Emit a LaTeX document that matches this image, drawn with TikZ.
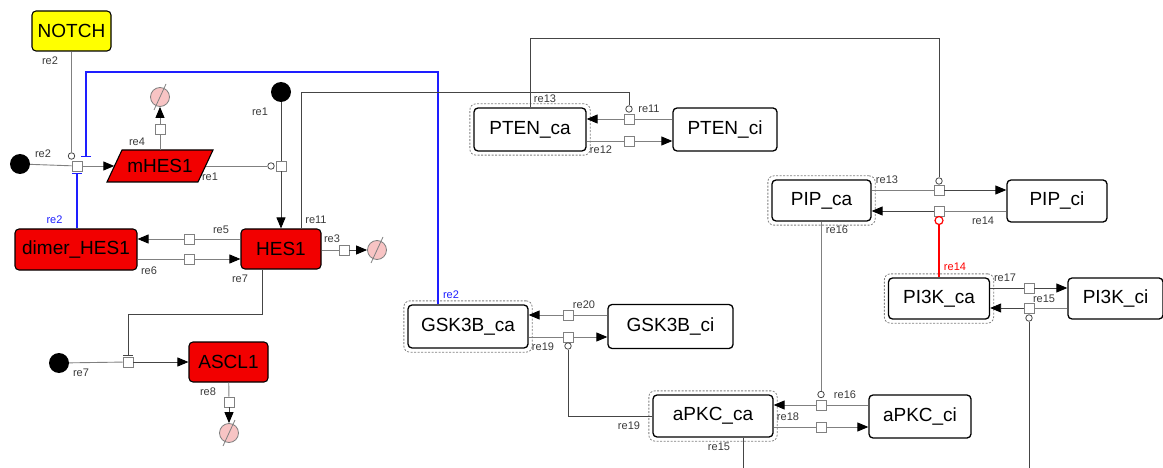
\documentclass[tikz,border=0pt]{standalone}
\usepackage{fontspec}
\setmainfont{Liberation Sans}
\usepackage{xcolor}
\definecolor{hesred}{HTML}{F20000}
\definecolor{notchyellow}{HTML}{FFFF00}
\definecolor{inhblue}{HTML}{1E1EFF}
\definecolor{degpink}{HTML}{F8C4C4}
\definecolor{rxngray}{HTML}{808080}
\definecolor{modgray}{HTML}{454545}
\definecolor{lblgray}{HTML}{3A3A3A}
\usetikzlibrary{arrows.meta, shapes.geometric, positioning, calc, fit}

\begin{document}
\begin{tikzpicture}[x=1pt, y=-1pt, >={Triangle[length=11pt,width=9pt,black]},
  species/.style={draw, line width=1.3pt, rounded corners=4pt, inner sep=0pt,
                  font=\fontsize{19}{20}\selectfont},
  redbox/.style={species, fill=hesred, line width=1.1pt},
  yellowbox/.style={species, fill=notchyellow, line width=1.1pt},
  cabox/.style={draw=gray, dashed, dash pattern=on 2pt off 1.5pt, line width=0.8pt,
                rounded corners=6pt, inner sep=3.5pt},
  procsq/.style={draw=rxngray, fill=white, line width=0.9pt, minimum size=10pt, inner sep=0pt},
  modcirc/.style={circle, draw=modgray, fill=white, line width=0.8pt, minimum size=6.5pt, inner sep=0pt},
  srcdot/.style={circle, fill=black, minimum size=20pt, inner sep=0pt},
  degsym/.style={circle, draw=gray, fill=degpink, line width=0.8pt, minimum size=19pt, inner sep=0pt},
  rxn/.style={draw=rxngray, line width=0.9pt},
  modline/.style={draw=modgray, line width=0.9pt},
  inhline/.style={draw=inhblue, line width=1.3pt, -{Bar[width=10pt]}},
  lbl/.style={font=\fontsize{11}{12}\selectfont, text=lblgray, inner sep=0pt}]

  \clip (0,0) rectangle (1163,468);

  % HES1 module
  \node[yellowbox, minimum width=79pt, minimum height=40pt] (notch) at (71.5,31) {NOTCH};
  \draw[fill=hesred, line width=1.1pt] (107,182) -- (122,150) -- (213,150) -- (198,182) -- cycle;
  \node[inner sep=0pt, minimum width=91pt, minimum height=32pt,
        font=\fontsize{19}{20}\selectfont] (mhes1) at (160,166) {mHES1};
  \node[redbox, minimum width=122pt, minimum height=41pt] (dimer) at (76,249.5) {dimer\_HES1};
  \node[redbox, minimum width=80pt, minimum height=40pt] (hes1) at (281,249) {HES1};
  \node[redbox, minimum width=79pt, minimum height=40pt] (ascl1) at (228.5,362) {ASCL1};

  \node[srcdot] (src2) at (20,164) {};
  \node[srcdot] (src1) at (281,92) {};
  \node[srcdot] (src7) at (59,363) {};
  \node[degsym] (deg4) at (160,97) {};
  \node[degsym] (deg3) at (377,250) {};
  \node[degsym] (deg8) at (229,433) {};
  \foreach \d in {deg4,deg3,deg8}
    \draw[gray, line width=0.8pt] ($(\d)+(-6,13)$) -- ($(\d)+(6,-13)$);

  % PI3K / PTEN module
  \node[species, minimum width=112pt, minimum height=43pt] (pten_ca) at (530,129.5) {PTEN\_ca};
  \node[species, minimum width=104pt, minimum height=43pt] (pten_ci) at (725,129.5) {PTEN\_ci};
  \node[species, minimum width=99pt, minimum height=41pt] (pip_ca) at (821.5,200.5) {PIP\_ca};
  \node[species, minimum width=100pt, minimum height=42pt] (pip_ci) at (1057,201) {PIP\_ci};
  \node[species, minimum width=101pt, minimum height=41pt] (pi3k_ca) at (939,298.5) {PI3K\_ca};
  \node[species, minimum width=95pt, minimum height=41pt] (pi3k_ci) at (1115.5,298.5) {PI3K\_ci};
  \node[species, minimum width=120pt, minimum height=43pt] (gsk3b_ca) at (468,326.5) {GSK3B\_ca};
  \node[species, minimum width=125pt, minimum height=44pt] (gsk3b_ci) at (670.5,326.5) {GSK3B\_ci};
  \node[species, minimum width=120pt, minimum height=42pt] (apkc_ca) at (713,416) {aPKC\_ca};
  \node[species, minimum width=102pt, minimum height=43pt] (apkc_ci) at (920,416.5) {aPKC\_ci};
  \foreach \n in {pten_ca,pip_ca,pi3k_ca,gsk3b_ca,apkc_ca}
    \node[cabox, fit=(\n)] (\n-outer) {};

  % process squares and modifier circles
  \node[procsq] (r2sq) at (77,166) {};
  \node[modcirc] (r2c) at (71.5,156) {};
  \node[procsq] (r4sq) at (160,129) {};
  \node[procsq] (r1sq) at (281,166) {};
  \node[modcirc] (r1c) at (271,166) {};
  \node[procsq] (r5sq) at (189,239) {};
  \node[procsq] (r6sq) at (189,259) {};
  \node[procsq] (r3sq) at (344,250) {};
  \node[procsq] (r7sq) at (128,362) {};
  \node[procsq] (r8sq) at (229,402) {};
  \node[procsq] (r11sq) at (629,119) {};
  \node[modcirc] (r11c) at (629,109) {};
  \node[procsq] (r12sq) at (629,141) {};
  \node[procsq] (r13sq) at (939,190) {};
  \node[modcirc] (r13c) at (939,181) {};
  \node[procsq] (r14sq) at (939,211) {};
  \node[modcirc, draw=red, line width=1.2pt, minimum size=8pt] (r14c) at (939,220.5) {};
  \node[procsq] (r17sq) at (1029,288) {};
  \node[procsq] (r15sq) at (1029,308) {};
  \node[modcirc] (r15c) at (1029,318) {};
  \node[procsq] (r20sq) at (568,315) {};
  \node[procsq] (r19sq) at (568,337) {};
  \node[modcirc] (r19c) at (568,346) {};
  \node[procsq] (r16sq) at (821,405) {};
  \node[modcirc] (r16c) at (821,394.5) {};
  \node[procsq] (r18sq) at (821,427) {};

  \coordinate (r2top) at (86,157);
  \coordinate (r2bot) at (77,173);
  \coordinate (bendblue) at (86,72);
  \coordinate (bend11) at (301,92);
  \coordinate (bend13) at (530,38);
  \coordinate (bend7) at (262,314);
  \coordinate (r7bar) at (128,355);
  \coordinate (bend15) at (743,480);

  % HES1 reactions
  \draw[rxn] (src2) -- (r2sq);
  \draw[rxn, ->] (r2sq) -- (mhes1);
  \draw[rxn] (notch) -- (r2c);
  \draw[inhline] ([xshift=-30pt]gsk3b_ca.north) |- (bendblue) -- (r2top);
  \draw[inhline] (dimer.north -| r2bot) -- (r2bot);
  \draw[rxn] (mhes1.north) -- (r4sq);
  \draw[rxn, ->] (r4sq) -- (deg4);
  \draw[modline] (src1) -- (r1sq);
  \draw[modline, ->] (r1sq) -- (hes1);
  \draw[rxn] (mhes1) -- (r1c);
  \draw[rxn] (r5sq -| hes1.west) -- (r5sq);
  \draw[rxn, ->] (r5sq) -- (r5sq -| dimer.east);
  \draw[rxn] (r6sq -| dimer.east) -- (r6sq);
  \draw[rxn, ->] (r6sq) -- (r6sq -| hes1.west);
  \draw[rxn] (r3sq -| hes1.east) -- (r3sq);
  \draw[modline, ->] (r3sq) -- (deg3);
  \draw[modline] ([xshift=20pt]hes1.north) -- (bend11) -| (r11c);
  \draw[modline] ([xshift=-19pt]hes1.south) -- (bend7) -| (r7bar);
  \draw[modline, line width=1pt] ([xshift=-5pt]r7bar) -- ([xshift=5pt]r7bar);
  \draw[rxn] (src7) -- (r7sq);
  \draw[modline, ->] (r7sq) -- (ascl1);
  \draw[rxn] (ascl1) -- (r8sq);
  \draw[modline, ->] (r8sq) -- (deg8);

  % PTEN / PIP / PI3K reactions
  \draw[rxn] (r11sq -| pten_ci.west) -- (r11sq);
  \draw[rxn, ->] (r11sq) -- (r11sq -| pten_ca.east);
  \draw[rxn] (r12sq -| pten_ca.east) -- (r12sq);
  \draw[rxn, ->] (r12sq) -- (r12sq -| pten_ci.west);
  \draw[modline] (pten_ca.north) -- (bend13) -| (r13c);
  \draw[rxn] (r13sq -| pip_ca.east) -- (r13sq);
  \draw[modline, ->] (r13sq) -- (r13sq -| pip_ci.west);
  \draw[rxn] (r14sq -| pip_ci.west) -- (r14sq);
  \draw[modline, ->] (r14sq) -- (r14sq -| pip_ca.east);
  \draw[red, line width=1.3pt] (pi3k_ca.north -| r14c) -- (r14c);
  \draw[modline] (r17sq -| pi3k_ca.east) -- (r17sq);
  \draw[modline, ->] (r17sq) -- (r17sq -| pi3k_ci.west);
  \draw[rxn] (r15sq -| pi3k_ci.west) -- (r15sq);
  \draw[modline, ->] (r15sq) -- (r15sq -| pi3k_ca.east);
  \draw[modline] ([xshift=30pt]apkc_ca.south) -- (bend15) -| (r15c);
  \draw[rxn] (pip_ca.south -| r16c) -- (r16c);
  \draw[rxn] (r16sq -| apkc_ci.west) -- (r16sq);
  \draw[rxn, ->] (r16sq) -- (r16sq -| apkc_ca.east);
  \draw[rxn] (r18sq -| apkc_ca.east) -- (r18sq);
  \draw[rxn, ->] (r18sq) -- (r18sq -| apkc_ci.west);
  \draw[rxn] (r20sq -| gsk3b_ci.west) -- (r20sq);
  \draw[rxn, ->] (r20sq) -- (r20sq -| gsk3b_ca.east);
  \draw[rxn] (r19sq -| gsk3b_ca.east) -- (r19sq);
  \draw[rxn, ->] (r19sq) -- (r19sq -| gsk3b_ci.west);
  \draw[modline] (apkc_ca.west) -| (r19c);

  % reaction labels
  \node[lbl] (l2a) at (50,61) {re2};
  \node[lbl] (l2b) at (43,154) {re2};
  \node[lbl, text=inhblue] (l2c) at (54.5,220) {re2};
  \node[lbl, text=inhblue] (l2d) at (451,295) {re2};
  \node[lbl] (l4) at (137,142) {re4};
  \node[lbl] (l1a) at (260,112) {re1};
  \node[lbl] (l1b) at (210,177) {re1};
  \node[lbl] (l11a) at (316,220) {re11};
  \node[lbl] (l5) at (221,230) {re5};
  \node[lbl] (l6) at (149,271) {re6};
  \node[lbl] (l3) at (332,239) {re3};
  \node[lbl] (l7a) at (240,279) {re7};
  \node[lbl] (l7b) at (81,373) {re7};
  \node[lbl] (l8) at (208,392) {re8};
  \node[lbl] (l13a) at (545,99) {re13};
  \node[lbl] (l11b) at (649,109) {re11};
  \node[lbl] (l12) at (601,150) {re12};
  \node[lbl] (l13b) at (887,180) {re13};
  \node[lbl] (l16a) at (837,230) {re16};
  \node[lbl] (l14a) at (983,221) {re14};
  \node[lbl, text=red] (l14b) at (955,267) {re14};
  \node[lbl] (l17) at (1005,278) {re17};
  \node[lbl] (l15a) at (1044,299) {re15};
  \node[lbl] (l20) at (584,305) {re20};
  \node[lbl] (l19a) at (543,347) {re19};
  \node[lbl] (l19b) at (629,426) {re19};
  \node[lbl] (l16b) at (845,395) {re16};
  \node[lbl] (l18) at (788,417) {re18};
  \node[lbl] (l15b) at (719,447) {re15};

\end{tikzpicture}
\end{document}
